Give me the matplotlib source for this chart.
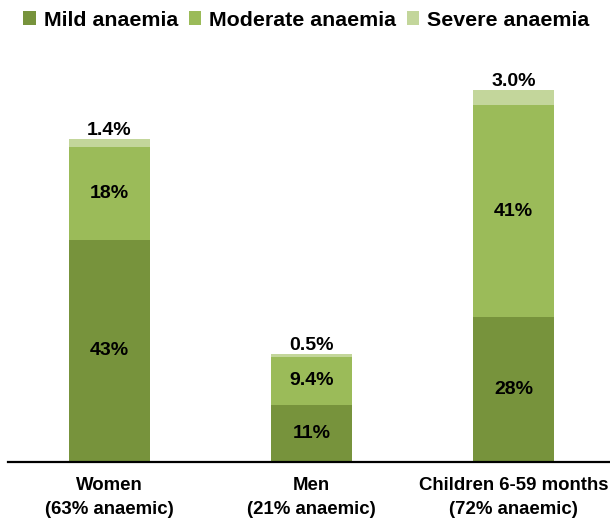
import matplotlib
matplotlib.use("Agg")
import matplotlib.pyplot as plt
from matplotlib.patches import Patch

plt.rcParams['font.family'] = ['Liberation Sans', 'DejaVu Sans']
plt.rcParams['font.weight'] = 'bold'

# data
groups = ["Women\n(63% anaemic)", "Men\n(21% anaemic)", "Children 6-59 months\n(72% anaemic)"]
mild = [43, 11, 28]
moderate = [18, 9.4, 41]
severe = [1.4, 0.5, 3.0]
mild_lbl = ["43%", "11%", "28%"]
moderate_lbl = ["18%", "9.4%", "41%"]
severe_lbl = ["1.4%", "0.5%", "3.0%"]
series_names = ["Mild anaemia", "Moderate anaemia", "Severe anaemia"]
colors = ["#77933C", "#9BBB59", "#C3D69B"]

fig = plt.figure(figsize=(6.10, 5.19), dpi=100)
ax = fig.add_axes([8 / 610, 57 / 519, 602 / 610, 413.6 / 519])

x = list(range(len(groups)))
w = 0.4
b1 = ax.bar(x, mild, w, color=colors[0], linewidth=0)
b2 = ax.bar(x, moderate, w, bottom=mild, color=colors[1], linewidth=0)
bot3 = [m + d for m, d in zip(mild, moderate)]
b3 = ax.bar(x, severe, w, bottom=bot3, color=colors[2], linewidth=0)

ax.bar_label(b1, labels=mild_lbl, label_type="center", fontsize=14, fontweight="bold")
ax.bar_label(b2, labels=moderate_lbl, label_type="center", fontsize=14, fontweight="bold")
ax.bar_label(b3, labels=severe_lbl, label_type="edge", padding=0, fontsize=14, fontweight="bold")

ax.set_xlim(-0.501, 2.477)
ax.set_ylim(0, 80)
ax.set_xticks(x)
ax.set_xticklabels(groups, fontsize=13.4, fontweight="bold", linespacing=1.55)
ax.tick_params(axis="x", length=0, pad=10.5)
ax.set_yticks([])
for s in ["top", "right", "left"]:
    ax.spines[s].set_visible(False)
ax.spines["bottom"].set_linewidth(1.6)
ax.spines["bottom"].set_color("black")

handles = [Patch(facecolor=c, edgecolor="none") for c in colors]
fig.legend(handles, series_names, loc="center", bbox_to_anchor=(0.502, 1 - 20 / 519),
           ncol=3, frameon=False, prop={"weight": "bold", "size": 15.4},
           handlelength=0.6, handleheight=0.6, handletextpad=0.35, columnspacing=0.5,
           borderpad=0, borderaxespad=0)

fig.savefig("out.png", dpi=100)
